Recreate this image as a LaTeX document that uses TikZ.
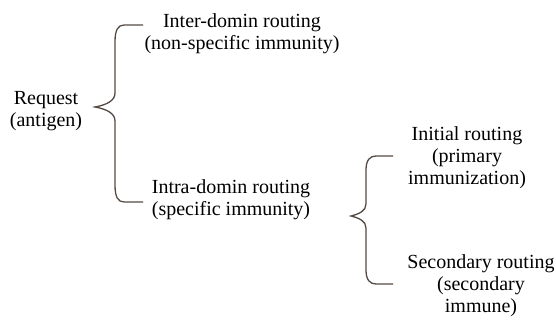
\documentclass[tikz,border=0pt]{standalone}
\usepackage{fontspec}
\setmainfont{Liberation Serif}
\usetikzlibrary{positioning}
\definecolor{bracegray}{RGB}{84,74,68}

\tikzset{
  label text/.style={align=center, inner sep=0pt, font=\fontsize{20}{22}\selectfont},
  brace line/.style={draw=bracegray, line width=1.3pt}
}

\begin{document}
\begin{tikzpicture}[x=1pt, y=-1pt]
    \useasboundingbox (0,0) rectangle (556,320);

    % Texts
    \node[label text] (request) at (46,111.5) {Request\\(antigen)};
    \node[label text] (inter) at (242,33.4) {Inter-domin routing\\(non-specific immunity)};
    \node[label text] (intra) at (231,199.4) {Intra-domin routing\\(specific immunity)};
    \node[label text] (initial) at (467,157.4) {Initial routing\\(primary\\immunization)};
    \node[label text] (second) at (481,285.4) {Secondary routing\\(secondary\\immune)};

    % First brace
    \coordinate (tip1) at (95,107);
    \coordinate (top1) at (143,25);
    \coordinate (bot1) at (143,202);
    \draw[brace line] (top1) -- (124,25) .. controls (118,25) and (115,30) .. (115,42)
        -- (115,93) .. controls (115,101) and (106,105) .. (tip1)
        .. controls (106,109) and (115,113) .. (115,121)
        -- (115,185) .. controls (115,197) and (118,202) .. (124,202) -- (bot1);

    % Second brace
    \coordinate (tip2) at (351,216);
    \coordinate (top2) at (393,156);
    \coordinate (bot2) at (393,284);
    \draw[brace line] (top2) -- (376,156) .. controls (370,156) and (366,160) .. (366,170)
        -- (366,204) .. controls (366,211) and (359,214) .. (tip2)
        .. controls (359,218) and (366,221) .. (366,228)
        -- (366,270) .. controls (366,280) and (370,284) .. (376,284) -- (bot2);
\end{tikzpicture}
\end{document}
